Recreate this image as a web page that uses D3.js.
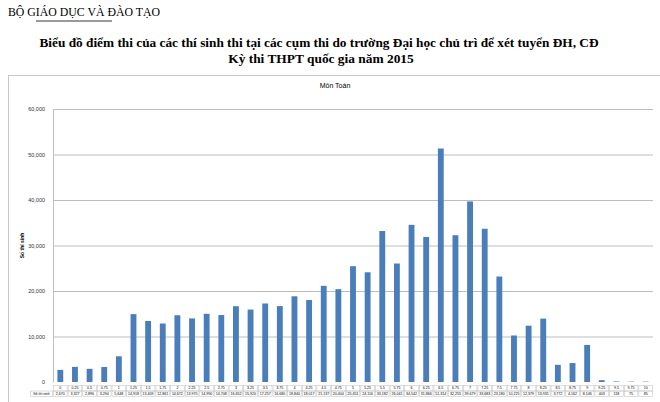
<!DOCTYPE html>
<html>
<head>
<meta charset="utf-8">
<script src="https://cdn.jsdelivr.net/npm/d3@7"></script>
<style>
  body { margin: 0; background: #fff; }
  svg { display: block; }
</style>
</head>
<body>
<svg id="chart" width="660" height="402"></svg>
<script>
// score bins (Môn Toán, 2015)
const scores = ["0","0.25","0.5","0.75","1","1.25","1.5","1.75","2","2.25","2.5","2.75",
  "3","3.25","3.5","3.75","4","4.25","4.5","4.75","5","5.25","5.5","5.75","6","6.25",
  "6.5","6.75","7","7.25","7.5","7.75","8","8.25","8.5","8.75","9","9.25","9.5","9.75","10"];

const counts = [2670, 3327, 2896, 3294, 5648, 14918, 13409, 12861, 14672, 13975, 14990, 14708,
  16652, 15920, 17257, 16680, 18840, 18017, 21137, 20404, 25451, 24116, 33182, 26041, 34542, 31866,
  51314, 32255, 39679, 33683, 23180, 10225, 12379, 13931, 3772, 4162, 8146, 403, 118, 75, 85];

const yTicks = [0, 10000, 20000, 30000, 40000, 50000, 60000];

const svg = d3.select("#chart");
const serif = "'Liberation Serif', 'DejaVu Serif', serif";
const sans = "'Liberation Sans', Arial, sans-serif";

// Header
svg.append("text")
  .attr("x", 8).attr("y", 16)
  .attr("font-family", serif).attr("font-size", 11.8)
  .text("BỘ GIÁO DỤC VÀ ĐÀO TẠO");
svg.append("line")
  .attr("x1", 36).attr("x2", 112).attr("y1", 21).attr("y2", 21)
  .attr("stroke", "#000").attr("stroke-width", 0.8);

svg.append("text")
  .attr("x", 319).attr("y", 47)
  .attr("text-anchor", "middle")
  .attr("font-family", serif).attr("font-weight", "bold").attr("font-size", 13.3)
  .text("Biểu đồ điểm thi của các thí sinh thi tại các cụm thi do trường Đại học chủ trì để xét tuyển ĐH, CĐ");
svg.append("text")
  .attr("x", 321).attr("y", 63)
  .attr("text-anchor", "middle")
  .attr("font-family", serif).attr("font-weight", "bold").attr("font-size", 13.4)
  .text("Kỳ thi THPT quốc gia năm 2015");

// Chart area frame
svg.append("rect")
  .attr("x", 8.5).attr("y", 75.5).attr("width", 660).attr("height", 340)
  .attr("fill", "#fff").attr("stroke", "#c8c8c8");

svg.append("text")
  .attr("x", 335).attr("y", 88)
  .attr("text-anchor", "middle")
  .attr("font-family", sans).attr("font-size", 7)
  .text("Môn Toán");

const margin = { left: 53, right: 653, top: 109, bottom: 382 };

const x = d3.scaleBand()
  .domain(scores)
  .range([margin.left, margin.right])
  .paddingInner(0.6)
  .paddingOuter(0.3);

const cell = d3.scaleBand()
  .domain(scores)
  .range([margin.left, margin.right]);

const y = d3.scaleLinear()
  .domain([0, 60000])
  .range([margin.bottom, margin.top]);

// gridlines
svg.append("g")
  .selectAll("line")
  .data(yTicks.slice(1))
  .join("line")
  .attr("x1", margin.left).attr("x2", margin.right)
  .attr("y1", d => y(d) + 0.5).attr("y2", d => y(d) + 0.5)
  .attr("stroke", "#bdbdbd").attr("stroke-width", 1);

// y axis
const yAxis = svg.append("g")
  .attr("transform", `translate(${margin.left},0)`)
  .call(d3.axisLeft(y).tickValues(yTicks).tickFormat(d3.format(",")).tickSize(0).tickPadding(8));
yAxis.select(".domain").attr("stroke", "#bdbdbd");
yAxis.selectAll("text")
  .attr("font-family", sans).attr("font-size", 5.5).attr("fill", "#333");

svg.append("text")
  .attr("transform", `translate(24,${(margin.top + margin.bottom) / 2}) rotate(-90)`)
  .attr("text-anchor", "middle")
  .attr("font-family", sans).attr("font-weight", "bold").attr("font-size", 5)
  .text("Số thí sinh");

// bars
svg.append("g")
  .selectAll("rect")
  .data(counts)
  .join("rect")
  .attr("x", (d, i) => x(scores[i]))
  .attr("y", d => y(d))
  .attr("width", x.bandwidth())
  .attr("height", d => y(0) - y(d))
  .attr("fill", "#4a7ebb");

// data table under the axis
const rowTop = 385, rowH = 5.5;
const table = svg.append("g");

table.selectAll("rect.cat")
  .data(scores)
  .join("rect")
  .attr("class", "cat")
  .attr("x", d => cell(d) + 0.5).attr("y", rowTop + 0.5)
  .attr("width", cell.bandwidth() - 1).attr("height", rowH)
  .attr("fill", "none").attr("stroke", "#bbb").attr("stroke-width", 0.5);

table.selectAll("rect.val")
  .data(scores)
  .join("rect")
  .attr("class", "val")
  .attr("x", d => cell(d) + 0.5).attr("y", rowTop + rowH + 0.5)
  .attr("width", cell.bandwidth() - 1).attr("height", rowH)
  .attr("fill", "none").attr("stroke", "#bbb").attr("stroke-width", 0.5);

table.append("rect")
  .attr("x", 30.5).attr("y", rowTop + rowH + 0.5)
  .attr("width", 22).attr("height", rowH)
  .attr("fill", "none").attr("stroke", "#bbb").attr("stroke-width", 0.5);

table.append("text")
  .attr("x", 41.5).attr("y", rowTop + rowH * 2 - 1)
  .attr("text-anchor", "middle")
  .attr("font-family", sans).attr("font-size", 3.5)
  .text("Số thí sinh");

table.selectAll("text.cat")
  .data(scores)
  .join("text")
  .attr("class", "cat")
  .attr("x", d => cell(d) + cell.bandwidth() / 2)
  .attr("y", rowTop + rowH - 1.2)
  .attr("text-anchor", "middle")
  .attr("font-family", sans).attr("font-size", 3.6)
  .text(d => d);

table.selectAll("text.val")
  .data(counts)
  .join("text")
  .attr("class", "val")
  .attr("x", (d, i) => cell(scores[i]) + cell.bandwidth() / 2)
  .attr("y", rowTop + rowH * 2 - 1.2)
  .attr("text-anchor", "middle")
  .attr("font-family", sans).attr("font-size", 3.6)
  .text(d => d3.format(",")(d));
</script>
</body>
</html>
